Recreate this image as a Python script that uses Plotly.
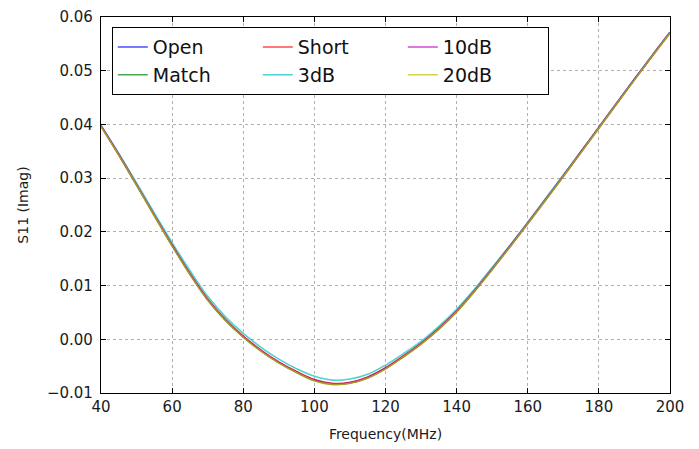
import plotly.graph_objects as go

freq = [40, 45, 50, 55, 60, 65, 70, 75, 80, 85, 90, 95, 100, 105, 110, 115, 120,
        125, 130, 135, 140, 145, 150, 155, 160, 165, 170, 175, 180, 185, 190, 195, 200]

s11_open = [0.0397, 0.0344, 0.0288, 0.0231, 0.0175, 0.0122, 0.0074, 0.0036, 0.0005, -0.0021,
            -0.0043, -0.0061, -0.0076, -0.0083, -0.0081, -0.0071, -0.0054, -0.0032, -0.0008,
            0.0020, 0.0052, 0.0090, 0.0131, 0.0173, 0.0216, 0.0260, 0.0304, 0.0349, 0.0394,
            0.0439, 0.0484, 0.0528, 0.0571]
s11_match = [0.0397, 0.0343, 0.0287, 0.0230, 0.0174, 0.0121, 0.0073, 0.0035, 0.0004, -0.0022,
             -0.0044, -0.0062, -0.0077, -0.0084, -0.0082, -0.0072, -0.0055, -0.0033, -0.0009,
             0.0019, 0.0051, 0.0089, 0.0130, 0.0172, 0.0215, 0.0259, 0.0303, 0.0348, 0.0393,
             0.0438, 0.0483, 0.0527, 0.0571]
s11_short = [0.0397, 0.0344, 0.0288, 0.0231, 0.0176, 0.0123, 0.0075, 0.0037, 0.0006, -0.0020,
             -0.0042, -0.0060, -0.0075, -0.0082, -0.0080, -0.0070, -0.0053, -0.0031, -0.0007,
             0.0021, 0.0053, 0.0091, 0.0132, 0.0174, 0.0217, 0.0261, 0.0305, 0.0350, 0.0395,
             0.0440, 0.0484, 0.0528, 0.0571]
s11_3db = [0.0398, 0.0346, 0.0291, 0.0235, 0.0180, 0.0128, 0.0080, 0.0042, 0.0011, -0.0015,
           -0.0037, -0.0055, -0.0069, -0.0076, -0.0074, -0.0065, -0.0048, -0.0027, -0.0004,
           0.0024, 0.0056, 0.0093, 0.0134, 0.0175, 0.0218, 0.0262, 0.0306, 0.0350, 0.0395,
           0.0440, 0.0485, 0.0529, 0.0572]
s11_10db = [0.0397, 0.0344, 0.0288, 0.0231, 0.0175, 0.0122, 0.0074, 0.0036, 0.0005, -0.0021,
            -0.0043, -0.0061, -0.0076, -0.0083, -0.0081, -0.0071, -0.0054, -0.0032, -0.0008,
            0.0020, 0.0052, 0.0090, 0.0131, 0.0173, 0.0216, 0.0260, 0.0304, 0.0349, 0.0394,
            0.0439, 0.0484, 0.0528, 0.0571]
s11_20db = [0.0396, 0.0343, 0.0287, 0.0230, 0.0174, 0.0121, 0.0073, 0.0035, 0.0004, -0.0022,
            -0.0044, -0.0062, -0.0077, -0.0084, -0.0082, -0.0072, -0.0055, -0.0033, -0.0009,
            0.0019, 0.0051, 0.0089, 0.0130, 0.0172, 0.0215, 0.0259, 0.0303, 0.0348, 0.0393,
            0.0438, 0.0483, 0.0527, 0.0570]

series_names = ["Open", "Match", "Short", "3dB", "10dB", "20dB"]
series_values = [s11_open, s11_match, s11_short, s11_3db, s11_10db, s11_20db]
series_colors = ["rgba(0,0,255,0.7)", "rgba(0,128,0,0.7)", "rgba(255,0,0,0.7)",
                 "rgba(0,191,191,0.7)", "rgba(191,0,191,0.7)", "rgba(191,191,0,0.7)"]
legend_ranks = [1, 4, 2, 5, 3, 6]

x_ticks = [40, 60, 80, 100, 120, 140, 160, 180, 200]
y_ticks = [-0.01, 0.00, 0.01, 0.02, 0.03, 0.04, 0.05, 0.06]
y_tick_text = ["\u22120.01", "0.00", "0.01", "0.02", "0.03", "0.04", "0.05", "0.06"]

fig = go.Figure()
for name, vals, col, rank in zip(series_names, series_values, series_colors, legend_ranks):
    fig.add_trace(go.Scatter(x=freq, y=vals, mode="lines", name=name,
                             line=dict(color=col, width=1.6, shape="spline", smoothing=1.0),
                             legendrank=rank))

axis_common = dict(showline=True, linecolor="black", linewidth=1.2, mirror="allticks",
                   ticks="inside", ticklen=5, tickcolor="black", showgrid=True,
                   gridcolor="#b0b0b0", griddash="3px,3px", gridwidth=1, zeroline=False,
                   automargin=False,
                   tickfont=dict(family="DejaVu Sans", size=15, color="#1a1a1a"))

fig.update_xaxes(range=[40, 200], tickvals=x_ticks, ticktext=[str(v) for v in x_ticks],
                 title=dict(text="Frequency(MHz)", font=dict(family="DejaVu Sans", size=14,
                                                             color="#1a1a1a"), standoff=14),
                 **axis_common)
fig.update_yaxes(range=[-0.01, 0.06], tickvals=y_ticks, ticktext=y_tick_text,
                 title=dict(text="S11 (Imag)", font=dict(family="DejaVu Sans", size=14,
                                                         color="#1a1a1a"), standoff=15),
                 ticklabelstandoff=4, **axis_common)

fig.update_layout(
    width=699, height=449,
    margin=dict(l=101, r=29, t=17, b=56, autoexpand=False),
    paper_bgcolor="white", plot_bgcolor="white",
    showlegend=True,
    legend=dict(x=0.019, y=0.973, xanchor="left", yanchor="top",
                orientation="h", entrywidth=100, entrywidthmode="pixels",
                bgcolor="white", bordercolor="black", borderwidth=1,
                font=dict(family="DejaVu Sans", size=19, color="#111111"),
                tracegroupgap=0),
)

fig.write_html("out.html")
